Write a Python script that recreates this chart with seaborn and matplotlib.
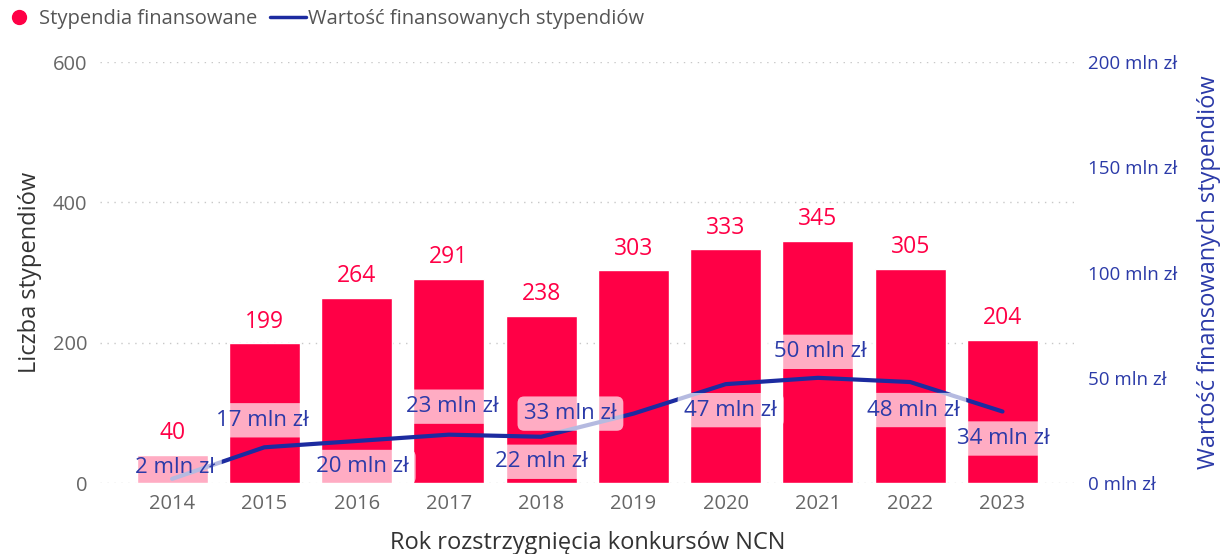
import numpy as np
import pandas as pd
import matplotlib
matplotlib.use("Agg")
import matplotlib.pyplot as plt
from matplotlib.lines import Line2D
import seaborn as sns

# ***** data ***** #
years = ["2014", "2015", "2016", "2017", "2018", "2019", "2020", "2021", "2022", "2023"]
grants = [40, 199, 264, 291, 238, 303, 333, 345, 305, 204]
value_mln = [2, 17, 20, 23, 22, 33, 47, 50, 48, 34]

# label offsets for the line labels (pixels), mimicking Power BI placement
lab_dx = [3, -2, 6, 3, 0, -63, 5, 2, 3, 1]
lab_dy = [11, 27, -26, 28, -25, 0, -26, 26, -28, -27]

RED = "#FF0046"
BLUE = "#1C2BA0"
BLUE_TXT = "#2B3AA8"
GREY = "#666666"

sns.set_theme(style="white")
plt.rcParams["font.family"] = ["Open Sans", "DejaVu Sans"]

df = pd.DataFrame({"rok": years, "stypendia": grants, "wartosc": value_mln})

fig = plt.figure(figsize=(12.21, 5.54), dpi=100)
ax = fig.add_axes([0.082, 0.128, 0.798, 0.76])

sns.barplot(data=df, x="rok", y="stypendia", color=RED, saturation=1,
            width=0.77, ax=ax, zorder=2)
ax.set_xlim(-0.78, 9.78)
ax.set_ylim(0, 600)
ax.set_yticks([0, 200, 400, 600])
for y in [0, 200, 400, 600]:
    ax.axhline(y, color="#C8C8C8", lw=1, ls=(0, (1, 4)), zorder=1)
for c in ax.containers:
    ax.bar_label(c, padding=7, color=RED, fontsize=16.5)

ax.tick_params(axis="both", length=0, labelsize=14.5, labelcolor=GREY)
ax.tick_params(axis="y", pad=9)
ax.tick_params(axis="x", pad=8)
ax.set_xlabel("Rok rozstrzygnięcia konkursów NCN", fontsize=17, color="#333333", labelpad=12)
ax.set_ylabel("Liczba stypendiów", fontsize=17, color="#333333", labelpad=8)
sns.despine(ax=ax, left=True, bottom=True, right=True, top=True)

ax2 = ax.twinx()
sns.lineplot(x=np.arange(len(years)), y=value_mln, color=BLUE, lw=3, ax=ax2, zorder=3)
ax2.set_ylim(0, 200)
ax2.set_yticks([0, 50, 100, 150, 200])
ax2.set_yticklabels([f"{t} mln zł" for t in [0, 50, 100, 150, 200]])
ax2.tick_params(axis="y", length=0, labelsize=13.5, labelcolor=BLUE_TXT, pad=10)
ax2.set_ylabel("Wartość finansowanych stypendiów", fontsize=17, color=BLUE_TXT, labelpad=14)
for s in ax2.spines.values():
    s.set_visible(False)

for i, v in enumerate(value_mln):
    ax2.annotate(f"{v} mln zł", xy=(i, v), xytext=(lab_dx[i], lab_dy[i]),
                 textcoords="offset pixels", ha="center", va="center",
                 fontsize=16, color=BLUE_TXT, zorder=5,
                 bbox=dict(boxstyle="round,pad=0.3", fc="white", ec="none", alpha=0.68))

handles = [Line2D([], [], marker="o", ls="", color=RED, markersize=10),
           Line2D([], [], color=BLUE, lw=2.5)]
fig.legend(handles, ["Stypendia finansowane", "Wartość finansowanych stypendiów"],
           loc="upper left", bbox_to_anchor=(-0.004, 0.995), ncol=2, frameon=False,
           fontsize=14.5, labelcolor="#555555", handlelength=1.8, handletextpad=0.1,
           columnspacing=0.6, borderaxespad=0.0, borderpad=0.3)

fig.savefig("out.png", dpi=100)
